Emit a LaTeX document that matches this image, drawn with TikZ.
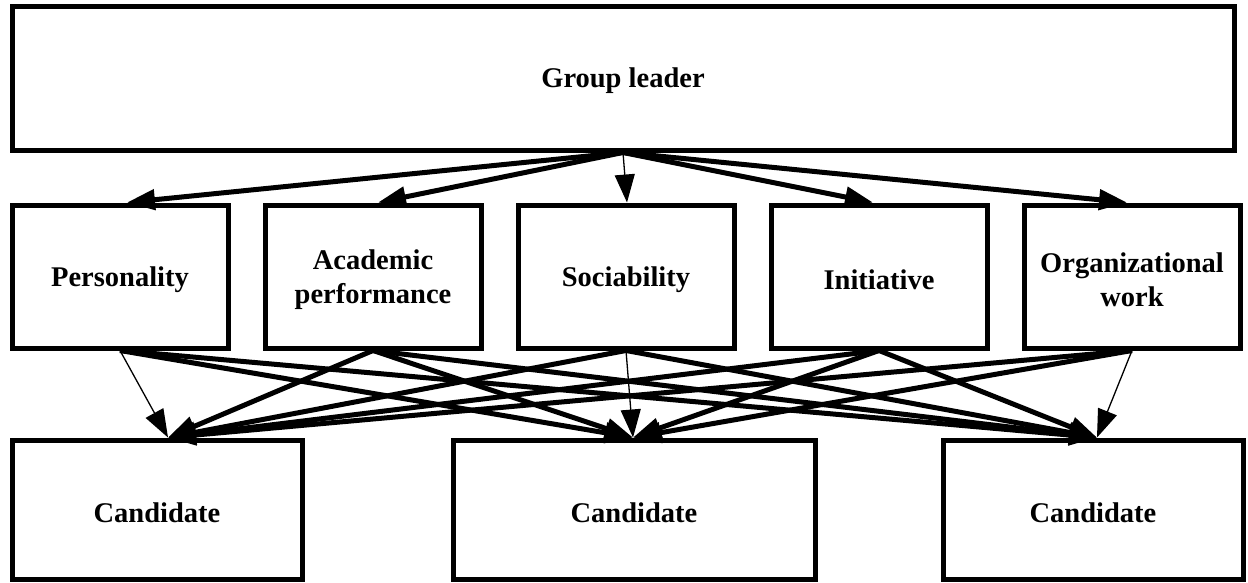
\documentclass[tikz,border=0pt]{standalone}
\usepackage{fontspec}
\setmainfont{Liberation Serif}
\usetikzlibrary{arrows.meta}
\begin{document}
\begin{tikzpicture}[x=1pt,y=-1pt,
  box/.style={draw=black,line width=5pt,fill=white,inner sep=0pt},
  txt/.style={inner sep=0pt,align=center,yshift=-3pt,
    font=\fontsize{28.5}{34}\selectfont\bfseries},
  link/.style={line width=5pt,-{Triangle[length=28pt,width=20pt]}},
  thinlink/.style={line width=1.3pt,-{Triangle[length=28pt,width=20pt]}}]
\useasboundingbox (0,0) rectangle (1248,582);
% top level
\node[box,minimum width=1222pt,minimum height=144pt] (lead) at (623,78) {};
% criteria
\node[box,minimum width=216pt,minimum height=143pt] (pers) at (120,276.5) {};
\node[box,minimum width=216pt,minimum height=143pt] (acad) at (373,276.5) {};
\node[box,minimum width=216pt,minimum height=143pt] (soc)  at (626,276.5) {};
\node[box,minimum width=216pt,minimum height=143pt] (init) at (879,276.5) {};
\node[box,minimum width=216pt,minimum height=143pt] (org)  at (1132,276.5) {};
% candidates
\node[box,minimum width=290pt,minimum height=139pt] (c1) at (157,509.5) {};
\node[box,minimum width=362pt,minimum height=139pt] (c2) at (634,509.5) {};
\node[box,minimum width=300pt,minimum height=139pt] (c3) at (1093,509.5) {};
% box captions
\node[txt] (leadtxt) at (lead.center) {Group leader};
\node[txt] (perstxt) at (pers.center) {Personality};
\node[txt] (acadtxt) at (acad.center) {Academic\\performance};
\node[txt] (soctxt)  at (soc.center)  {Sociability};
\node[txt] (inittxt) at (init.center) {Initiative};
\node[txt] (orgtxt)  at (org.center)  {Organizational\\work};
\node[txt] (c1txt) at (c1.center) {Candidate};
\node[txt] (c2txt) at (c2.center) {Candidate};
\node[txt] (c3txt) at (c3.center) {Candidate};
% leader to criteria
\draw[link] (lead.south) -- ([xshift=7pt]pers.north);
\draw[link] (lead.south) -- ([xshift=5pt]acad.north);
\draw[thinlink] (lead.south) -- ([xshift=1pt]soc.north);
\draw[link] (lead.south) -- ([xshift=-6pt]init.north);
\draw[link] (lead.south) -- ([xshift=-5pt]org.north);
% criteria to candidates
\draw[thinlink] (pers.south) -- ([xshift=11pt]c1.north);
\draw[link] (pers.south) -- ([xshift=-1pt]c2.north);
\draw[link] (pers.south) -- ([xshift=4pt]c3.north);
\draw[link] (acad.south) -- ([xshift=11pt]c1.north);
\draw[link] (acad.south) -- ([xshift=-1pt]c2.north);
\draw[link] (acad.south) -- ([xshift=4pt]c3.north);
\draw[link] (soc.south) -- ([xshift=11pt]c1.north);
\draw[thinlink] (soc.south) -- ([xshift=-1pt]c2.north);
\draw[link] (soc.south) -- ([xshift=4pt]c3.north);
\draw[link] (init.south) -- ([xshift=11pt]c1.north);
\draw[link] (init.south) -- ([xshift=-1pt]c2.north);
\draw[link] (init.south) -- ([xshift=4pt]c3.north);
\draw[link] (org.south) -- ([xshift=11pt]c1.north);
\draw[link] (org.south) -- ([xshift=-1pt]c2.north);
\draw[thinlink] (org.south) -- ([xshift=4pt]c3.north);
\end{tikzpicture}
\end{document}
